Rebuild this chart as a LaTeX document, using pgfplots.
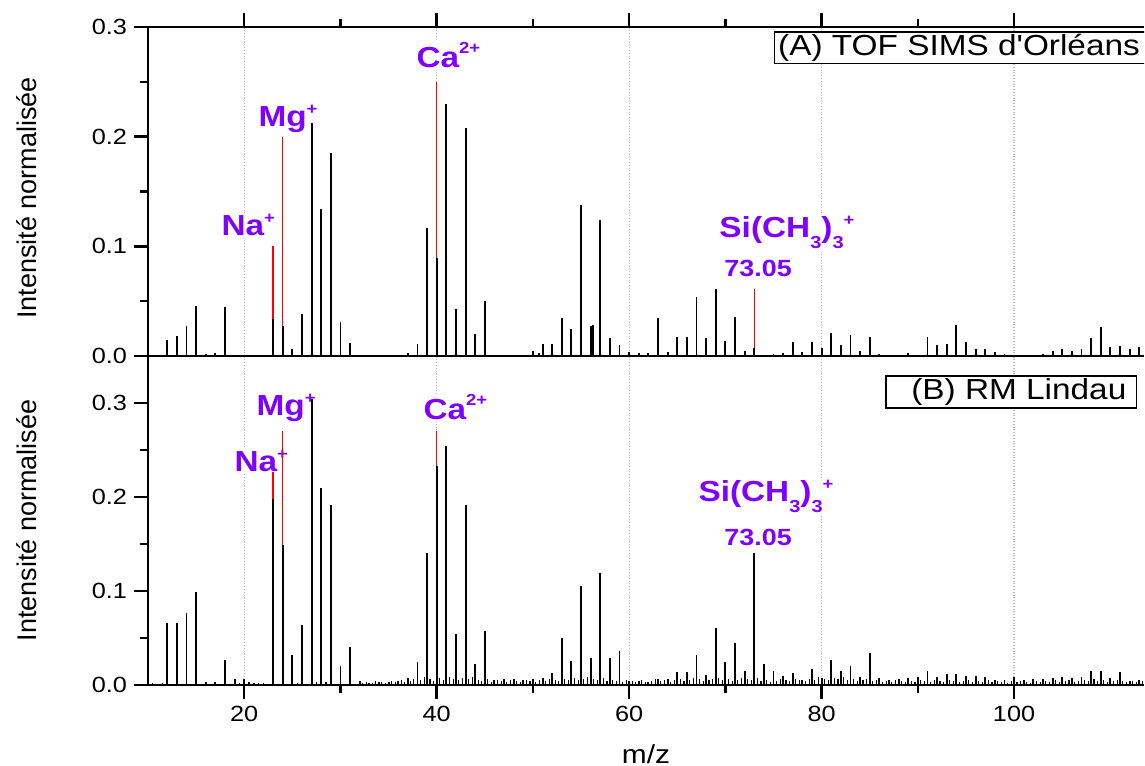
\documentclass[border=0pt]{standalone}
\usepackage{pgfplots}
\pgfplotsset{compat=1.18}
\usepackage{fontspec}
\setmainfont{Liberation Sans}[FakeStretch=1.15]
\newfontfamily\ylabfont{Liberation Sans}
\newfontfamily\legfont{Liberation Sans}[FakeStretch=1.15, Ligatures=TeXOff]
\definecolor{annot}{RGB}{128,0,255}
\definecolor{peakred}{RGB}{255,0,0}
\newcommand\supp[2][6pt]{\raisebox{#1}{\fontsize{8}{8}\selectfont #2}}
\newcommand\subb[1]{\raisebox{-5.5pt}{\fontsize{8.7}{9}\selectfont #1}}

\tikzset{
  lab/.style={font=\bfseries\fontsize{14.5}{17}\selectfont, text=annot, inner sep=0.6pt, fill=white, anchor=base west},
  labs/.style={font=\bfseries\fontsize{11.7}{14}\selectfont, text=annot, inner sep=0.6pt, fill=white, anchor=base west},
}
\pgfplotsset{
  spec/.style={
    width=498pt, height=164.5pt, scale only axis,
    xmin=10, xmax=113.5, ymin=0,
    axis y line*=left,
    axis line style={line width=1.2pt},
    tick style={black, line width=1.2pt},
    tick align=outside,
    major tick length=7pt, minor tick length=4pt,
    xtick={20,40,60,80,100}, minor x tick num=1,
    ytick={0,0.1,0.2,0.3}, minor y tick num=1,
    xmajorgrids, major grid style={densely dotted, gray!55, line width=0.6pt},
    /pgf/number format/assume math mode=true,
    yticklabel style={/pgf/number format/.cd, fixed, fixed zerofill, precision=1},
    tick label style={font=\fontsize{11}{13}\selectfont},
    ylabel={\ylabfont\fontsize{13.5}{16}\selectfont Intensit\'e normalis\'ee},
  },
  blkpk/.style={ycomb, black, line width=0.95pt, mark=none},
  redpk/.style={ycomb, peakred, line width=0.75pt, mark=none},
  noisepk/.style={ycomb, black, line width=0.55pt, mark=none},
}

\begin{document}
\begin{tikzpicture}
% ---------- (A) ----------
\begin{axis}[spec, name=top, ymax=0.3, xtick pos=right, xticklabels={},
  ylabel style={at={(axis description cs:-0.1215,0.48)}, anchor=center}]
  \node[lab] at (axis cs:37.74,0.2634) {Ca\supp[7pt]{2+}};
  \node[lab] at (axis cs:21.32,0.209) {Mg\supp{+}};
  \node[lab] at (axis cs:17.48,0.110) {Na\supp{+}};
  \node[lab] at (axis cs:69.22,0.108) {Si(CH\subb{3})\subb{3}\supp{+}};
  \node[labs] at (axis cs:69.74,0.0723) {73.05};
  \draw[line width=0.6pt, fill=white] (axis cs:75.14,0.267) rectangle (axis cs:116,0.2954);
  \node[anchor=base west, inner sep=0pt, font=\legfont\fontsize{14.5}{17}\selectfont] at (axis cs:75.45,0.2744) {(A) TOF SIMS d'Orl\'eans};
  \addplot[redpk] coordinates {(23,0.1) (24,0.2) (40,0.25) (73.05,0.061)};
  \addplot[blkpk] coordinates {
    (12,0.015) (13,0.018) (14,0.027) (15,0.046) (16,0.002) (17,0.003) (18,0.045) (19,0.001)
    (23,0.034) (24,0.027) (25,0.006) (26,0.038) (27,0.212) (28,0.134) (29,0.185) (30,0.031) (31,0.012)
    (37,0.003) (38,0.011) (39,0.117) (40,0.089) (41,0.230) (42,0.043) (43,0.208) (44,0.020) (45,0.050)
    (46,0.001) (47,0.001) (50,0.005) (50.6,0.003) (51,0.011) (52,0.011) (53,0.035) (54,0.025) (55,0.138)
    (56,0.027) (56.2,0.028) (57,0.124) (58,0.016) (59,0.010) (60,0.004) (61,0.003) (62,0.003) (63,0.035)
    (64,0.004) (65,0.017) (66,0.017) (67,0.0535) (68,0.016) (69,0.061) (70,0.014) (71,0.036) (72,0.005)
    (73,0.007) (74,0.001) (75,0.002) (76,0.003) (77,0.013) (78,0.004) (79,0.013) (80,0.007) (81,0.021)
    (82,0.010) (83,0.019) (84,0.005) (85,0.017) (86,0.002) (87,0.001) (88,0.001) (89,0.003) (90,0.001)
    (91,0.017) (92,0.010) (93,0.011) (94,0.028) (95,0.013) (96,0.006) (97,0.006) (98,0.004) (99,0.002)
    (101,0.001) (102,0.001) (103,0.002) (104,0.005) (105,0.006) (106,0.005) (107,0.006) (108,0.016)
    (109,0.026) (110,0.008) (111,0.009) (112,0.006) (113,0.008)
  };
\end{axis}
% ---------- (B) ----------
\begin{axis}[spec, name=bot, at={(top.south west)}, anchor=north west, ymax=0.35, xtick pos=left,
  xlabel={\fontsize{13}{15}\selectfont m/z},
  xlabel style={at={(axis description cs:0.5,-0.21)}, anchor=center},
  ylabel style={at={(axis description cs:-0.1215,0.5)}, anchor=center}]
  \node[lab] at (axis cs:21.12,0.287) {Mg\supp{+}};
  \node[lab] at (axis cs:18.83,0.227) {Na\supp{+}};
  \node[lab] at (axis cs:38.47,0.282) {Ca\supp[7pt]{2+}};
  \node[lab] at (axis cs:67.04,0.195) {Si(CH\subb{3})\subb{3}\supp{+}};
  \node[labs] at (axis cs:69.74,0.148) {73.05};
  \draw[line width=0.6pt, fill=white] (axis cs:86.68,0.2947) rectangle (axis cs:112.75,0.3287);
  \node[anchor=base east, inner sep=0pt, font=\legfont\fontsize{14.5}{17}\selectfont] at (axis cs:111.71,0.304) {(B) RM Lindau};
  \addplot[noisepk] coordinates {
    (10.5,0.002) (11.5,0.002) (16.5,0.001) (19.5,0.002) (20.5,0.003) (21.5,0.002) (25.5,0.002) (27.5,0.003) (28.5,0.003)
    (32.3,0.002) (32.7,0.003) (33.3,0.002) (33.6,0.004) (34.3,0.003) (34.7,0.002) (35.3,0.004) (35.7,0.003)
    (36.3,0.005) (36.7,0.003) (37.3,0.004) (37.6,0.006) (38.3,0.005) (38.7,0.008) (39.3,0.006) (39.7,0.004)
    (40.3,0.007) (40.7,0.005) (41.3,0.008) (41.7,0.006) (42.3,0.005) (42.7,0.007) (43.3,0.006) (43.7,0.009)
    (44.3,0.005) (44.7,0.004) (45.3,0.006) (45.7,0.003) (46.3,0.005) (46.7,0.004) (47.3,0.003) (47.7,0.005)
    (48.3,0.004) (48.7,0.003) (49.3,0.005) (49.7,0.004) (50.3,0.003) (50.7,0.005) (51.3,0.004) (51.7,0.006)
    (52.3,0.005) (52.7,0.004) (53.3,0.006) (53.7,0.005) (54.3,0.007) (54.7,0.005) (55.3,0.006) (55.7,0.008)
    (56.3,0.006) (56.7,0.005) (57.3,0.007) (57.7,0.004) (58.3,0.005) (58.7,0.004) (59.3,0.003) (59.7,0.005)
    (60.3,0.004) (60.7,0.003) (61.3,0.005) (61.7,0.003) (62.3,0.004) (62.7,0.006) (63.3,0.004) (63.7,0.005)
    (64.3,0.003) (64.7,0.005) (65.3,0.006) (65.7,0.004) (66.3,0.005) (66.7,0.007) (67.3,0.006) (67.7,0.004)
    (68.3,0.005) (68.7,0.006) (69.3,0.007) (69.7,0.005) (70.3,0.006) (70.7,0.004) (71.3,0.005) (71.7,0.007)
    (72.3,0.006) (72.7,0.005) (73.3,0.007) (73.7,0.004) (74.3,0.005) (74.7,0.003) (75.3,0.004) (75.7,0.006)
    (76.3,0.005) (76.7,0.004) (77.3,0.006) (77.7,0.005) (78.3,0.004) (78.7,0.006) (79.3,0.005) (79.7,0.008)
    (80.3,0.006) (80.7,0.005) (81.3,0.007) (81.7,0.006) (82.3,0.008) (82.7,0.005) (83.3,0.006) (83.7,0.004)
    (84.3,0.005) (84.7,0.006) (85.3,0.004) (85.7,0.005) (86.3,0.003) (86.7,0.004) (87.3,0.003) (87.7,0.005)
    (88.3,0.004) (88.7,0.003) (89.3,0.004) (89.7,0.003) (90.3,0.005) (90.7,0.004) (91.3,0.003) (91.7,0.005)
    (92.3,0.004) (92.7,0.003) (93.3,0.005) (93.7,0.004) (94.3,0.003) (94.7,0.004) (95.3,0.005) (95.7,0.003)
    (96.3,0.004) (96.7,0.003) (97.3,0.005) (97.7,0.003) (98.3,0.004) (98.7,0.003) (99.3,0.002) (99.7,0.004)
    (100.3,0.003) (100.7,0.004) (101.3,0.003) (101.7,0.002) (102.3,0.004) (102.7,0.003) (103.3,0.004) (103.7,0.003)
    (104.3,0.005) (104.7,0.003) (105.3,0.004) (105.7,0.005) (106.3,0.003) (106.7,0.004) (107.3,0.005) (107.7,0.004)
    (108.3,0.006) (108.7,0.004) (109.3,0.005) (109.7,0.003) (110.3,0.004) (110.7,0.005) (111.3,0.004) (111.7,0.003)
    (112.3,0.004) (112.7,0.003) (113.3,0.004)
  };
  \addplot[redpk] coordinates {(23,0.227) (24,0.27) (40,0.27)};
  \addplot[blkpk] coordinates {
    (12,0.066) (13,0.066) (14,0.077) (15,0.099) (16,0.003) (17,0.003) (18,0.027) (19,0.006) (20,0.006)
    (21,0.002) (22,0.002) (23,0.198) (24,0.149) (25,0.032) (26,0.064) (27,0.304) (28,0.21) (29,0.192)
    (30,0.020) (31,0.040) (32,0.004) (33,0.002) (34,0.003) (35,0.003) (36,0.004) (37,0.007) (38,0.024)
    (39,0.140) (40,0.233) (41,0.254) (42,0.054) (43,0.192) (44,0.022) (45,0.057) (46,0.005) (47,0.006)
    (48,0.006) (49,0.005) (50,0.006) (51,0.007) (52,0.013) (53,0.050) (54,0.025) (55,0.105) (56,0.029)
    (57,0.119) (58,0.029) (59,0.036) (60,0.004) (61,0.004) (62,0.003) (63,0.006) (64,0.006) (65,0.0135)
    (66,0.0135) (67,0.032) (68,0.011) (69,0.061) (70,0.024) (71,0.045) (72,0.015) (73,0.140) (74,0.022)
    (75,0.015) (76,0.010) (77,0.013) (78,0.005) (79,0.017) (80,0.007) (81,0.027) (82,0.015) (83,0.020)
    (84,0.008) (85,0.034) (86,0.007) (87,0.005) (88,0.006) (89,0.007) (90,0.008) (91,0.015) (92,0.009)
    (93,0.012) (94,0.012) (95,0.010) (96,0.010) (97,0.009) (98,0.005) (99,0.005) (100,0.008) (101,0.005)
    (102,0.006) (103,0.006) (104,0.007) (105,0.008) (106,0.007) (107,0.008) (108,0.015) (109,0.015)
    (110,0.007) (111,0.0135) (112,0.004) (113,0.005)
  };
\end{axis}
\pgfresetboundingbox
\path ([xshift=-74pt,yshift=13.5pt]top.north west) rectangle ([xshift=0.5pt,yshift=-40.5pt]bot.south east);
\end{tikzpicture}
\end{document}
